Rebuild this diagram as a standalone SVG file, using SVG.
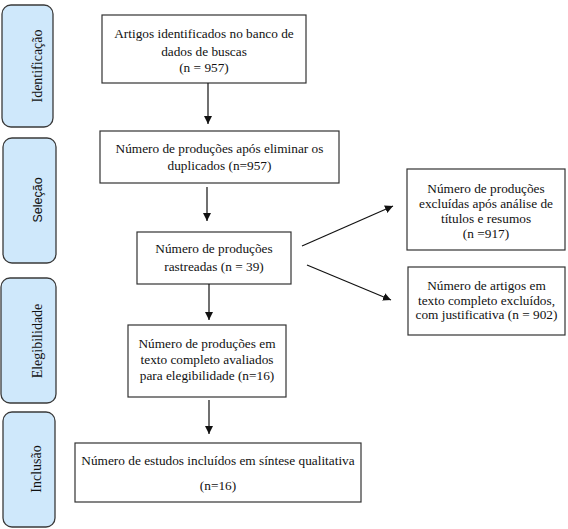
<svg xmlns="http://www.w3.org/2000/svg" width="568" height="529" viewBox="0 0 568 529">
<defs>
<style>
.phase{fill:#cfe8fb;stroke:#3a3a3a;stroke-width:1.3}
.box{fill:#ffffff;stroke:#333333;stroke-width:1.2}
.t{font-family:"Liberation Serif","Times New Roman",serif;font-size:13.3px;fill:#111;text-anchor:middle}
.pt{font-family:"Liberation Serif","Times New Roman",serif;font-size:14px;fill:#111;text-anchor:middle}
.ps{font-family:"Liberation Sans",Arial,sans-serif;font-size:12.5px;fill:#111;text-anchor:middle}
.c{stroke:#111;stroke-width:1.2;fill:none;marker-end:url(#ah)}
</style>
<marker id="ah" viewBox="0 0 10 10" refX="10" refY="5" markerWidth="8" markerHeight="8" markerUnits="userSpaceOnUse" orient="auto">
<path d="M0,0 L10,5 L0,10 z" fill="#111"/>
</marker>
</defs>
<g id="phase-identificacao">
<rect class="phase" x="2" y="5" width="51" height="122" rx="9"/>
<text class="pt" transform="translate(42,66) rotate(-90)">Identificação</text>
</g>
<g id="phase-selecao">
<rect class="phase" x="3" y="138" width="53" height="125" rx="9"/>
<text class="ps" transform="translate(42,200) rotate(-90)">Seleção</text>
</g>
<g id="phase-elegibilidade">
<rect class="phase" x="1" y="278" width="55" height="125" rx="9"/>
<text class="pt" transform="translate(42,341) rotate(-90)">Elegibilidade</text>
</g>
<g id="phase-inclusao">
<rect class="phase" x="3" y="412" width="52" height="115" rx="9"/>
<text class="pt" transform="translate(41,469) rotate(-90)">Inclusão</text>
</g>
<g id="box-identificados">
<rect class="box" x="102" y="15" width="204" height="68"/>
<text class="t" x="204" y="38">Artigos identificados no banco de</text>
<text class="t" x="204" y="56">dados de buscas</text>
<text class="t" x="204" y="72">(n = 957)</text>
</g>
<g id="box-duplicados">
<rect class="box" x="100" y="131" width="239" height="52"/>
<text class="t" x="219.5" y="152.5">Número de produções após eliminar os</text>
<text class="t" x="219.5" y="169.5">duplicados (n=957)</text>
</g>
<g id="box-rastreadas">
<rect class="box" x="137" y="232" width="154" height="52"/>
<text class="t" x="214" y="253">Número de produções</text>
<text class="t" x="214" y="271">rastreadas (n = 39)</text>
</g>
<g id="box-excluidas-titulos">
<rect class="box" x="407" y="169" width="158" height="81"/>
<text class="t" x="486" y="192.5">Número de produções</text>
<text class="t" x="486" y="207.5">excluídas após análise de</text>
<text class="t" x="486" y="222.5">títulos e resumos</text>
<text class="t" x="486" y="237.5">(n =917)</text>
</g>
<g id="box-excluidos-texto">
<rect class="box" x="408" y="267" width="157" height="68"/>
<text class="t" x="486.5" y="289.5">Número de artigos em</text>
<text class="t" x="486.5" y="304.5">texto completo excluídos,</text>
<text class="t" x="486.5" y="319">com justificativa (n = 902)</text>
</g>
<g id="box-elegibilidade">
<rect class="box" x="128" y="325" width="158" height="72"/>
<text class="t" x="207" y="347.5">Número de produções em</text>
<text class="t" x="207" y="363.5">texto completo avaliados</text>
<text class="t" x="207" y="379.5">para elegibilidade (n=16)</text>
</g>
<g id="box-inclusao">
<rect class="box" x="75" y="443" width="286" height="59"/>
<text class="t" x="218" y="464.5">Número de estudos incluídos em síntese qualitativa</text>
<text class="t" x="218" y="489.5">(n=16)</text>
</g>
<g id="connectors">
<line class="c" x1="208" y1="83" x2="208" y2="124"/>
<line class="c" x1="207" y1="187" x2="207" y2="221"/>
<line class="c" x1="302" y1="246" x2="393" y2="206"/>
<line class="c" x1="307" y1="265" x2="391" y2="300"/>
<line class="c" x1="209" y1="284" x2="209" y2="320"/>
<line class="c" x1="209" y1="400" x2="209" y2="434"/>
</g>
</svg>
